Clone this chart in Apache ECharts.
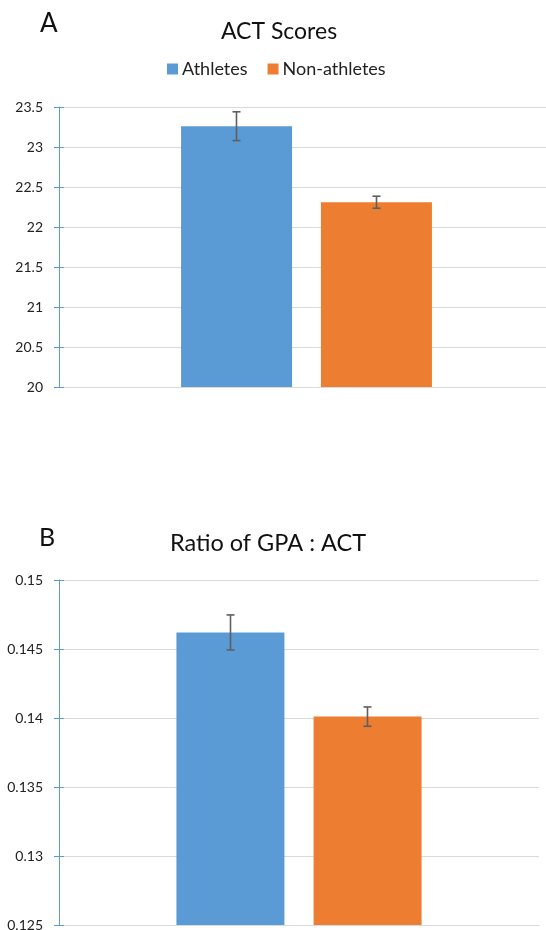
<!DOCTYPE html>
<html>
<head>
<meta charset="utf-8">
<script src="https://cdn.jsdelivr.net/npm/echarts@6/dist/echarts.min.js"></script>
<style>html,body{margin:0;padding:0;background:#fff}#c{width:546px;height:930px}</style>
</head>
<body>
<div id="c"></div>
<script>
// ---- data ----
var groups = ['Athletes', 'Non-athletes'];
var actCategory = ['ACT'];
var actMean = [23.26, 22.31];
var actErr = [0.18, 0.075];
var actTicks = { min: 20, max: 23.5, interval: 0.5 };
var ratioCategory = ['GPA:ACT'];
var ratioMean = [0.1462, 0.1401];
var ratioErr = [0.00127, 0.0007];
var ratioTicks = { min: 0.125, max: 0.15, interval: 0.005 };

var colors = ['#5B9BD5', '#ED7D31'];
var FONT = 'Lato';

var chart = echarts.init(document.getElementById('c'));

function errSeries(grid, means, errs, offsets) {
  return {
    type: 'custom',
    xAxisIndex: grid, yAxisIndex: grid,
    z: 10,
    silent: true,
    clip: false,
    data: means.map(function (m, i) { return [0, m - errs[i], m + errs[i], i]; }),
    encode: { x: 0, y: [1, 2] },
    renderItem: function (params, api) {
      var i = api.value(3);
      var lo = api.coord([0, api.value(1)]);
      var hi = api.coord([0, api.value(2)]);
      var x = lo[0] + offsets[i];
      var st = { stroke: '#5f5f5f', lineWidth: 1.6 };
      return {
        type: 'group',
        children: [
          { type: 'line', shape: { x1: x, y1: lo[1], x2: x, y2: hi[1] }, style: st },
          { type: 'line', shape: { x1: x - 4, y1: lo[1], x2: x + 4, y2: lo[1] }, style: st },
          { type: 'line', shape: { x1: x - 4, y1: hi[1], x2: x + 4, y2: hi[1] }, style: st }
        ]
      };
    }
  };
}

function yAx(grid, t, fmt) {
  return {
    type: 'value', gridIndex: grid, position: 'left', min: t.min, max: t.max, interval: t.interval,
    axisLine: { show: true, lineStyle: { color: '#5B9BD5', width: 1 } },
    axisTick: { show: true, length: 5, lineStyle: { color: '#5B9BD5' } },
    axisLabel: { color: '#222', fontFamily: FONT, fontSize: 14, margin: 16, formatter: fmt },
    splitLine: { show: true, lineStyle: { color: '#d9d9d9', width: 1 } }
  };
}
function yAxInner(grid, t) {
  return {
    type: 'value', gridIndex: grid, position: 'left', offset: 0, min: t.min, max: t.max, interval: t.interval,
    axisLine: { show: false },
    axisTick: { show: true, inside: true, length: 5, lineStyle: { color: '#5B9BD5' } },
    axisLabel: { show: false },
    splitLine: { show: false }
  };
}
function xAx(grid, cats) {
  return {
    type: 'category', gridIndex: grid, data: cats,
    axisLine: { show: true, lineStyle: { color: '#d9d9d9', width: 1 } },
    axisTick: { show: false }, axisLabel: { show: false }
  };
}

var option = {
  animation: false,
  color: colors,
  textStyle: { fontFamily: FONT },
  title: [
    { text: 'A', left: 35, top: 6, textStyle: { fontFamily: FONT, fontSize: 26, fontWeight: 'normal', color: '#111' } },
    { text: 'ACT Scores', left: 274, top: 15, textAlign: 'center', textStyle: { fontFamily: FONT, fontSize: 23, fontWeight: 'normal', color: '#111' } },
    { text: 'B', left: 34, top: 520, textStyle: { fontFamily: FONT, fontSize: 25, fontWeight: 'normal', color: '#111' } },
    { text: 'Ratio of GPA : ACT', left: 263, top: 526, textAlign: 'center', textStyle: { fontFamily: FONT, fontSize: 23.5, fontWeight: 'normal', color: '#111' } }
  ],
  legend: {
    data: groups, left: 162, top: 55, icon: 'rect', itemWidth: 11, itemHeight: 11, itemGap: 20,
    textStyle: { fontFamily: FONT, fontSize: 18, color: '#222', padding: [0, 0, 0, -1] }
  },
  grid: [
    { left: 59, width: 495, top: 107, height: 280, outerBoundsMode: 'none', containLabel: false },
    { left: 59, right: 7, top: 580, height: 345, outerBoundsMode: 'none', containLabel: false }
  ],
  xAxis: [xAx(0, actCategory), xAx(1, ratioCategory)],
  yAxis: [
    yAx(0, actTicks),
    yAx(1, ratioTicks, function (v) { return String(+v.toFixed(4)); }),
    yAxInner(0, actTicks),
    yAxInner(1, ratioTicks)
  ],
  series: [
    { name: groups[0], type: 'bar', xAxisIndex: 0, yAxisIndex: 0, data: [actMean[0]], barWidth: 111, barGap: '26%', itemStyle: { color: colors[0] } },
    { name: groups[1], type: 'bar', xAxisIndex: 0, yAxisIndex: 0, data: [actMean[1]], barWidth: 111, barGap: '26%', itemStyle: { color: colors[1] } },
    { name: groups[0], type: 'bar', xAxisIndex: 1, yAxisIndex: 1, data: [ratioMean[0]], barWidth: 108, barGap: '27%', itemStyle: { color: colors[0] } },
    { name: groups[1], type: 'bar', xAxisIndex: 1, yAxisIndex: 1, data: [ratioMean[1]], barWidth: 108, barGap: '27%', itemStyle: { color: colors[1] } },
    errSeries(0, actMean, actErr, [-70, 70]),
    errSeries(1, ratioMean, ratioErr, [-68.5, 68.5])
  ]
};
chart.setOption(option);
</script>
</body>
</html>
